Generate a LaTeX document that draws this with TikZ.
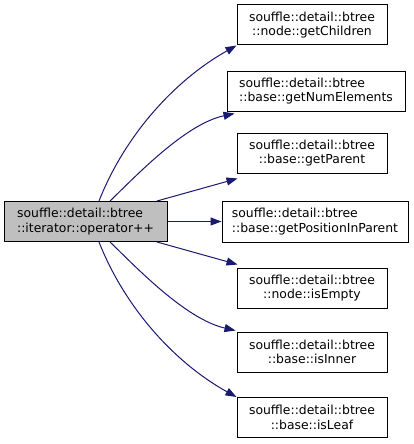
\documentclass[tikz,border=0pt]{standalone}
\usepackage{fontspec}
\setmainfont{DejaVu Sans}
\usetikzlibrary{arrows.meta}
\definecolor{edgeblue}{HTML}{191970}
\definecolor{rootgray}{HTML}{BFBFBF}
\begin{document}
\begin{tikzpicture}[x=1pt,y=-1pt,
  box/.style={draw=black, line width=1pt, fill=white, minimum height=40pt, inner sep=0pt,
    font=\fontsize{12.4}{14.5}\selectfont},
  ctr/.style={box, align=center, minimum width=150pt},
  lft/.style={box, align=left},
  edge/.style={draw=edgeblue, line width=1pt, -{Triangle[length=11pt,width=8pt]}}]
\useasboundingbox (0,0) rectangle (413,444);
\node[lft, fill=rootgray, minimum width=163pt] (root) at (85.5,221.5) {souffle::detail::btree\\::iterator::operator++};
\node[ctr] (b1) at (312,25) {souffle::detail::btree\\::node::getChildren};
\node[lft, minimum width=178pt] (b2) at (316,91) {souffle::detail::btree\\::base::getNumElements};
\node[ctr] (b3) at (312,153) {souffle::detail::btree\\::base::getParent};
\node[lft, minimum width=186pt, minimum height=41pt] (b4) at (315,221.5) {souffle::detail::btree\\::base::getPositionInParent};
\node[ctr] (b5) at (312,288) {souffle::detail::btree\\::node::isEmpty};
\node[ctr] (b6) at (312,352) {souffle::detail::btree\\::base::isInner};
\node[ctr] (b7) at (312,417.5) {souffle::detail::btree\\::base::isLeaf};
\draw[edge] ([xshift=13.5pt]root.north) .. controls (125,135) and (175,80) .. (b1.south west);
\draw[edge] ([xshift=24.5pt]root.north) .. controls (135,177) and (185,124) .. ([xshift=8pt,yshift=-2pt]b2.south west);
\draw[edge] ([xshift=71.5pt]root.north) -- ([xshift=1pt,yshift=-5pt]b3.south west);
\draw[edge] (root.east) -- (b4.west);
\draw[edge] ([xshift=71.5pt]root.south) -- ([xshift=1pt,yshift=3pt]b5.north west);
\draw[edge] ([xshift=24.5pt]root.south) .. controls (135,266) and (185,319) .. ([xshift=-1pt,yshift=1pt]b6.north west);
\draw[edge] ([xshift=13.5pt]root.south) .. controls (125,308) and (175,363) .. (b7.north west);
\end{tikzpicture}
\end{document}
